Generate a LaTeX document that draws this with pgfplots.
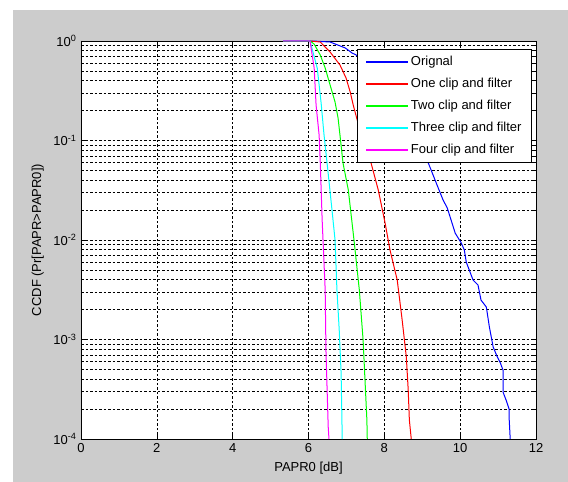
\documentclass[border=0pt]{standalone}
\usepackage{fontspec}
\setmainfont{Liberation Sans}
\usepackage{pgfplots}
\pgfplotsset{compat=1.18}
\definecolor{figgray}{RGB}{204,204,204}
\definecolor{mlblue}{RGB}{0,0,255}
\definecolor{mlred}{RGB}{255,0,0}
\definecolor{mlgreen}{RGB}{0,255,0}
\definecolor{mlcyan}{RGB}{0,255,255}
\definecolor{mlmagenta}{RGB}{255,0,255}
\begin{document}
\fontsize{13}{15}\selectfont
\begin{tikzpicture}[x=1pt,y=1pt]
\useasboundingbox (0,0) rectangle (568,482);
\fill[white] (0,0) rectangle (568,482);
\fill[figgray] (13,0) rectangle (568,472);
\begin{axis}[
    at={(81pt,43pt)}, anchor=south west,
    scale only axis, width=455pt, height=398pt,
    ymode=log,
    xmin=0, xmax=12, ymin=1e-4, ymax=1,
    xtick={0,2,...,12},
    ytick={1e-4,1e-3,1e-2,1e-1,1},
    yticklabels={10\textsuperscript{-4},10\textsuperscript{-3},10\textsuperscript{-2},10\textsuperscript{-1},10\textsuperscript{0}},
    minor ytick={2e-4,3e-4,4e-4,5e-4,6e-4,7e-4,8e-4,9e-4,
                 2e-3,3e-3,4e-3,5e-3,6e-3,7e-3,8e-3,9e-3,
                 2e-2,3e-2,4e-2,5e-2,6e-2,7e-2,8e-2,9e-2,
                 0.2,0.3,0.4,0.5,0.6,0.7,0.8,0.9},
    /pgf/number format/assume math mode=true,
    tick label style={font=\fontsize{13}{15}\selectfont},
    label style={font=\fontsize{13}{15}\selectfont},
    grid=both,
    major grid style={black, dash pattern=on 2.5pt off 2pt, line width=0.5pt},
    minor grid style={black, dash pattern=on 2.5pt off 2pt, line width=0.5pt},
    major tick length=5pt, minor tick length=3pt,
    tick style={black, line width=0.5pt},
    axis line style={black, line width=0.8pt},
    axis background/.style={fill=white},
    clip=false,
    xlabel={PAPR0 [dB]},
    xlabel style={at={(axis description cs:0.5,-0.073)}, anchor=center},
    ylabel={CCDF (Pr[PAPR>PAPR0])},
    ylabel style={at={(axis description cs:-0.095,0.5)}, anchor=center},
    legend style={at={(axis description cs:0.991,0.980)}, anchor=north east,
        line width=0.8pt, fill=white,
        font=\fontsize{13}{15}\selectfont, row sep=6.6pt,
        inner xsep=8pt, inner ysep=5pt},
    legend cell align=left,
    legend image code/.code={\draw[#1, line width=1.4pt] (0pt,0pt) -- (42pt,0pt);},
]
% Original
\addplot[color=mlblue, line width=1pt] coordinates {
(5.33,1) (6.04,1) (6.2,0.995) (6.57,0.977) (6.97,0.851) (7.15,0.757) (7.26,0.723)
(7.6,0.5) (8.0,0.3) (8.4,0.17) (8.8,0.1) (9.16,0.0594) (9.39,0.0357)
(9.55,0.0252) (9.66,0.0210) (9.87,0.0117) (10.03,0.00933) (10.11,0.00792)
(10.16,0.00601) (10.24,0.00499) (10.34,0.00396) (10.47,0.00353) (10.55,0.00249)
(10.69,0.00212) (10.77,0.00134) (10.87,0.000841) (10.98,0.000667) (11.06,0.000581)
(11.13,0.000493) (11.13,0.000296) (11.21,0.000247) (11.29,0.000200) (11.29,0.000166)
(11.32,0.0001)
};
% One clip and filter
\addplot[color=mlred, line width=1pt] coordinates {
(5.33,1) (6.04,1) (6.31,0.977) (6.57,0.774) (6.83,0.574) (6.99,0.425) (7.10,0.307)
(7.18,0.227) (7.4,0.11) (7.65,0.0594) (7.84,0.0318) (8.02,0.0148) (8.15,0.00792)
(8.34,0.00396) (8.47,0.00157) (8.58,0.000667) (8.63,0.000310) (8.66,0.000155)
(8.71,0.0001)
};
% Two clip and filter
\addplot[color=mlgreen, line width=1pt] coordinates {
(5.33,1) (6.04,1) (6.15,0.93) (6.31,0.723) (6.44,0.535) (6.57,0.361) (6.70,0.244)
(6.78,0.168) (6.83,0.1135) (6.91,0.0594) (7.05,0.0318) (7.20,0.01) (7.34,0.00316)
(7.44,0.000989) (7.49,0.000392) (7.54,0.000155) (7.55,0.0001)
};
% Three clip and filter
\addplot[color=mlcyan, line width=1pt] coordinates {
(5.33,1) (6.04,1) (6.23,0.535) (6.33,0.244) (6.41,0.1135) (6.49,0.0594)
(6.62,0.02) (6.70,0.01) (6.75,0.00316) (6.81,0.00125) (6.86,0.00046) (6.89,0.0001)
};
% Four clip and filter
\addplot[color=mlmagenta, line width=1pt] coordinates {
(5.33,1) (6.04,1) (6.15,0.535) (6.20,0.227) (6.28,0.1135) (6.31,0.0608)
(6.36,0.0159) (6.44,0.00315) (6.46,0.000785) (6.52,0.000132) (6.54,0.0001)
};
\legend{Orignal, One clip and filter, Two clip and filter, Three clip and filter, Four clip and filter}
\end{axis}
\end{tikzpicture}
\end{document}
